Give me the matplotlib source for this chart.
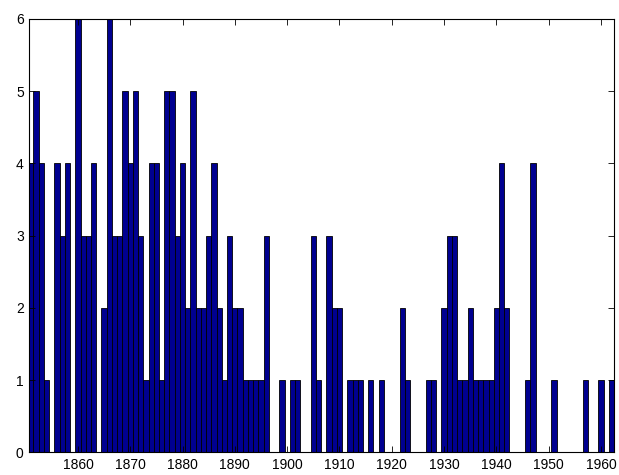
import matplotlib
matplotlib.use("Agg")
import matplotlib.pyplot as plt
import numpy as np

years = list(range(1851, 1963))
counts = [
    4, 5, 4, 1, 0, 4, 3, 4, 0, 6,      # 1851-1860
    3, 3, 4, 0, 2, 6, 3, 3, 5, 4,      # 1861-1870
    5, 3, 1, 4, 4, 1, 5, 5, 3, 4,      # 1871-1880
    2, 5, 2, 2, 3, 4, 2, 1, 3, 2,      # 1881-1890
    2, 1, 1, 1, 1, 3, 0, 0, 1, 0,      # 1891-1900
    1, 1, 0, 0, 3, 1, 0, 3, 2, 2,      # 1901-1910
    0, 1, 1, 1, 0, 1, 0, 1, 0, 0,      # 1911-1920
    0, 2, 1, 0, 0, 0, 1, 1, 0, 2,      # 1921-1930
    3, 3, 1, 1, 2, 1, 1, 1, 1, 2,      # 1931-1940
    4, 2, 0, 0, 0, 1, 4, 0, 0, 0,      # 1941-1950
    1, 0, 0, 0, 0, 0, 1, 0, 0, 1,      # 1951-1960
    0, 1,                              # 1961-1962
]
xticks = [1860, 1870, 1880, 1890, 1900, 1910, 1920, 1930, 1940, 1950, 1960]
yticks = [0, 1, 2, 3, 4, 5, 6]

plt.rcParams['font.family'] = ['Liberation Sans', 'DejaVu Sans']

fig = plt.figure(figsize=(6.19, 4.75), dpi=100)
ax = fig.add_axes([29.3 / 619, 1 - 452.3 / 475, 585 / 619, 433.3 / 475])

ax.bar(years, counts, width=1.0, color='#000090', edgecolor='black', linewidth=0.6)

ax.set_xlim(1850.7, 1962.55)
ax.set_ylim(0, 6)
ax.set_xticks(xticks)
ax.set_yticks(yticks)
ax.tick_params(direction='in', length=4, width=0.6, top=True, right=True,
               labelsize=10, colors='black', pad=4)
for s in ax.spines.values():
    s.set_linewidth(0.8)
    s.set_color('black')

fig.savefig('out.png', dpi=100)
